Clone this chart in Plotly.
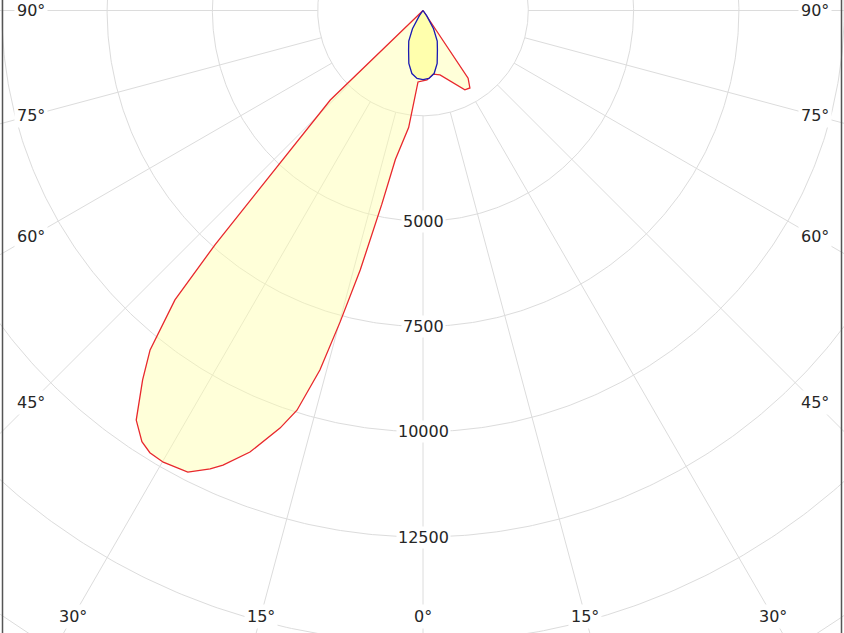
import numpy as np
import plotly.graph_objects as go

# ---------------- data (gamma angle in degrees, intensity in cd) ----------------
red_angles = [-90, -47, -46, -41.6, -40.6, -38.8, -37.2, -35, -33.1, -31.7, -29.9, -27,
              -24.9, -23.75, -21.4, -18.9, -17.5, -16, -14.9, -13.6, -12, -10.5, -7, -4,
              3.3, 9, 14.8, 27.8, 31.2, 33.7, 35, 90]
red_values = [0, 0, 3060, 7440, 9050, 10340, 11010, 11870, 12220, 12340, 12370, 12300,
              12000, 11790, 11260, 10480, 9950, 8880, 7650, 6340, 4700, 3600, 2800, 1700,
              1650, 1530, 1580, 2130, 2150, 1930, 0, 0]

blue_angles = [-90, -40, -35, -30, -25, -20, -15, -10, -5, 0, 5, 10, 15, 20, 25, 30, 35, 40, 90]
blue_values = [0, 0, 150, 500, 800, 1000, 1300, 1520, 1620, 1640, 1620, 1520, 1300, 1000,
               800, 500, 150, 0, 0]

grid_radii = [2500, 5000, 7500, 10000, 12500, 15000, 17500]
radial_labels = [5000, 7500, 10000, 12500]
spoke_angles = list(range(-90, 91, 15))
side_label_angles = [-90, -75, -60, -45, 45, 60, 75, 90]
bottom_label_angles = [-30, -15, 0, 15, 30]


def to_xy(ang_deg, r):
    a = np.radians(np.asarray(ang_deg, dtype=float))
    r = np.asarray(r, dtype=float)
    return r * np.sin(a), -r * np.cos(a)


W, H = 844, 633
K = 2500 / 105.3          # cd per pixel
CX, CY = 423.0, 10.5      # pixel position of the pole

fig = go.Figure()
grid_col = "#dcdcdc"

# circles
t = np.linspace(-180, 180, 721)
for rr in grid_radii:
    x, y = to_xy(t, np.full_like(t, rr))
    fig.add_trace(go.Scatter(x=x, y=y, mode="lines", line=dict(color=grid_col, width=1),
                             hoverinfo="skip", showlegend=False))
# spokes
for a in spoke_angles:
    x, y = to_xy([a, a], [grid_radii[0], 30000])
    fig.add_trace(go.Scatter(x=x, y=y, mode="lines", line=dict(color=grid_col, width=1),
                             hoverinfo="skip", showlegend=False))

# curves
rx, ry = to_xy(red_angles, red_values)
fig.add_trace(go.Scatter(x=rx, y=ry, mode="lines", fill="toself",
                         fillcolor="rgba(255,255,170,0.45)",
                         line=dict(color="#e8282d", width=1.3), hoverinfo="skip",
                         showlegend=False))
bx, by = to_xy(blue_angles, blue_values)
fig.add_trace(go.Scatter(x=bx, y=by, mode="lines", fill="toself",
                         fillcolor="rgba(255,255,120,0.45)",
                         line=dict(color="#1a1ab4", width=1.3), hoverinfo="skip",
                         showlegend=False))

font = dict(family="Verdana, DejaVu Sans, sans-serif", size=16, color="#262626")
ann = []
for v in radial_labels:
    x, y = to_xy(0, v)
    ann.append(dict(x=float(x), y=float(y), text=str(v), showarrow=False, font=font,
                    bgcolor="white", borderpad=1, xanchor="center", yanchor="middle"))

side_off = 392 * K
for a in side_label_angles:
    s = np.sign(a)
    x = s * side_off
    y = 0.0 if abs(a) == 90 else -side_off / np.tan(np.radians(abs(a)))
    ann.append(dict(x=float(x), y=float(y), text=f"{abs(a)}°", showarrow=False, font=font,
                    bgcolor="white", borderpad=2, xanchor="center", yanchor="middle"))

bot_y = -606 * K
for a in bottom_label_angles:
    x = -bot_y * np.tan(np.radians(a))
    ann.append(dict(x=float(x), y=float(bot_y), text=f"{abs(a)}°", showarrow=False, font=font,
                    bgcolor="white", borderpad=2, xanchor="center", yanchor="middle"))

shapes = [
    dict(type="line", xref="paper", yref="paper", x0=2.5 / W, x1=2.5 / W, y0=0, y1=1,
         line=dict(color="#555555", width=1.5)),
    dict(type="line", xref="paper", yref="paper", x0=841.5 / W, x1=841.5 / W, y0=0, y1=1,
         line=dict(color="#555555", width=1.5)),
]

fig.update_layout(
    width=W, height=H, margin=dict(l=0, r=0, t=0, b=0),
    paper_bgcolor="white", plot_bgcolor="white",
    xaxis=dict(range=[-CX * K, (W - CX) * K], visible=False, fixedrange=True),
    yaxis=dict(range=[-(H - CY) * K, CY * K], visible=False, fixedrange=True),
    annotations=ann, shapes=shapes, showlegend=False, hovermode=False,
)

fig.write_html("out.html", config={"displayModeBar": False})
